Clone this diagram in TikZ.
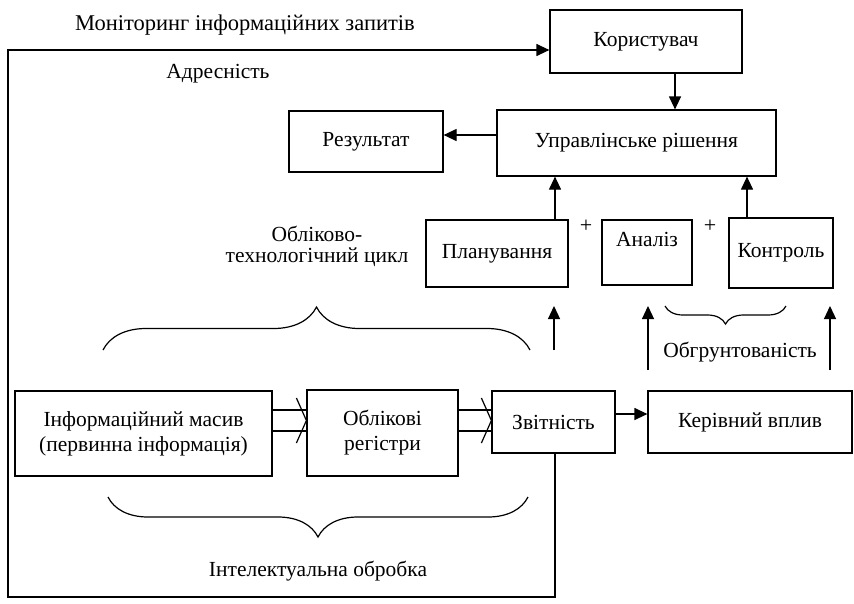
\documentclass[tikz,border=0pt]{standalone}
\usepackage{fontspec}
\setmainfont{Liberation Serif}
\usetikzlibrary{arrows.meta,decorations.pathreplacing,calc}
\begin{document}
\begin{tikzpicture}[x=1pt,y=-1pt,
  txt/.style={font=\fontsize{21.5}{25}\selectfont},
  box/.style={draw,line width=1.2pt,inner sep=0pt,align=center,txt},
  lbl/.style={inner sep=0pt,align=center,txt},
  ln/.style={line width=1.2pt},
  arr/.style={line width=1.2pt,-{Triangle[length=13pt,width=12pt]}},
  brc/.style={line width=1.2pt,decorate,decoration={brace,amplitude=#1}}]
\useasboundingbox (0,0) rectangle (854,603);

% boxes
\node[box,minimum width=192pt,minimum height=63pt] (user) at (646,41.5) {Користувач};
\node[box,minimum width=279pt,minimum height=66pt] (dec) at (636.5,143) {Управлінське рішення};
\node[box,minimum width=154pt,minimum height=61pt] (res) at (366,141.5) {Результат};
\node[box,minimum width=142pt,minimum height=67pt] (plan) at (497,253.5) {Планування};
\node[box,minimum width=90pt,minimum height=65pt] (anal) at (647,252.5) {Аналіз\\[-7pt]\strut};
\node[box,minimum width=104pt,minimum height=70pt] (ctrl) at (781,253) {Контроль};
\node[box,minimum width=257pt,minimum height=85pt] (info) at (143.5,433.5) {Інформаційний масив\\(первинна інформація)};
\node[box,minimum width=151pt,minimum height=86pt] (reg) at (382.5,433) {Облікові\\регістри};
\node[box,minimum width=123pt,minimum height=62pt] (zvit) at (553.5,422) {Звітність};
\node[box,minimum width=204pt,minimum height=62pt] (kerv) at (750,422) {Керівний вплив};

% labels
\node[lbl,font=\fontsize{22.5}{25}\selectfont] (mon) at (245,25) {Моніторинг інформаційних запитів};
\node[lbl] (adr) at (218,74) {Адресність};
\node[lbl,font=\fontsize{21.5}{21}\selectfont] (obl) at (317,246) {Обліково-\\технологічний цикл};
\node[lbl] (intel) at (318,571) {Інтелектуальна обробка};
\node[lbl] (obg) at (740,352) {Обгрунтованість};
\node[lbl,font=\fontsize{22}{22}\selectfont] (p1) at (586,226) {+};
\node[lbl,font=\fontsize{22}{22}\selectfont] (p2) at (710,226) {+};

% helper coordinates
\coordinate (cu) at (675,0);
\coordinate (cr) at (0,135);
\coordinate (cp) at (555,0);
\coordinate (ck) at (747,0);
\coordinate (d1) at (0,410);
\coordinate (d2) at (0,431);
\coordinate (ca) at (0,414);
\coordinate (fb1) at (555,597);
\coordinate (fb2) at (8,597);
\coordinate (fb3) at (8,50);
\coordinate (u1s) at (554,350);
\coordinate (u1e) at (554,306);
\coordinate (u2s) at (648,370);
\coordinate (u2e) at (648,306);
\coordinate (u3s) at (830,370);
\coordinate (u3e) at (830,306);
\coordinate (b1a) at (103,350);
\coordinate (b1b) at (530,350);
\coordinate (b2a) at (528,497);
\coordinate (b2b) at (108,497);
\coordinate (b3a) at (786,306);
\coordinate (b3b) at (665,306);

% connectors
\draw[arr] (user.south -| cu) -- (dec.north -| cu);
\draw[arr] (dec.west |- cr) -- (res.east |- cr);
\draw[arr] (plan.north -| cp) -- (dec.south -| cp);
\draw[arr] (ctrl.north -| ck) -- (dec.south -| ck);
\draw[arr] (u1s) -- (u1e);
\draw[arr] (u2s) -- (u2e);
\draw[arr] (u3s) -- (u3e);
\draw[arr] (zvit.east |- ca) -- (kerv.west |- ca);
\draw[arr] (zvit.south -| fb1) -- (fb1) -- (fb2) -- (fb3) -- (user.west |- fb3);

% double (hollow) arrows
\draw[ln] (info.east |- d1) -- (reg.west |- d1);
\draw[ln] (info.east |- d2) -- (reg.west |- d2);
\draw[ln] ($(reg.west |- d1)+(-10,-12)$) -- ($(reg.west |- d1)!.5!(reg.west |- d2)$) -- ($(reg.west |- d2)+(-10,12)$);
\draw[ln] (reg.east |- d1) -- (zvit.west |- d1);
\draw[ln] (reg.east |- d2) -- (zvit.west |- d2);
\draw[ln] ($(zvit.west |- d1)+(-10,-12)$) -- ($(zvit.west |- d1)!.5!(zvit.west |- d2)$) -- ($(zvit.west |- d2)+(-10,12)$);

% braces
\draw[brc=43pt] (b1a) -- (b1b);
\draw[brc=40pt] (b2a) -- (b2b);
\draw[brc=18pt] (b3a) -- (b3b);
\end{tikzpicture}
\end{document}
